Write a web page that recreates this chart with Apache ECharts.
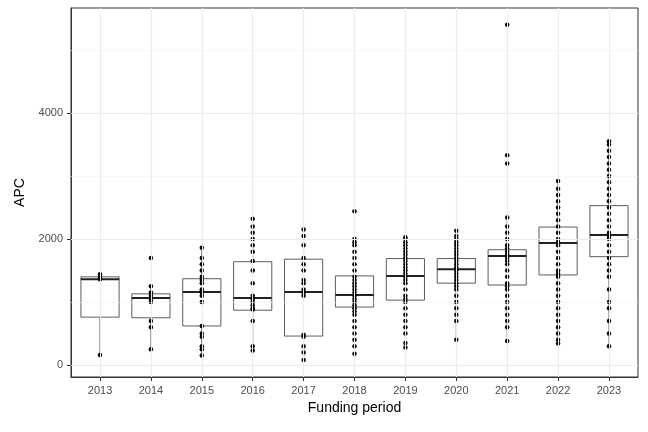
<!DOCTYPE html><html><head><meta charset="utf-8"><script src="https://cdn.jsdelivr.net/npm/echarts@6/dist/echarts.min.js"></script>
<style>html,body{margin:0;padding:0;background:#fff}#c{width:648px;height:432px}</style></head><body><div id="c"></div><script>
const years=['2013','2014','2015','2016','2017','2018','2019','2020','2021','2022','2023'];
// [min, Q1, median, Q3, max]
const boxStats=[
[160,760,1360,1400,1440],[250,750,1065,1130,1250],[150,620,1160,1370,1860],[230,870,1065,1640,2320],
[80,460,1160,1680,2150],[180,920,1110,1415,2000],[280,1030,1415,1690,2030],[400,1300,1520,1690,2130],
[380,1270,1730,1830,2340],[340,1430,1935,2190,2920],[300,1720,2065,2530,3550]];
const points=[
[160,1360,1400,1440],
[250,600,700,1000,1050,1100,1150,1250,1700],
[150,250,300,450,500,620,1000,1100,1150,1170,1200,1300,1350,1400,1500,1600,1700,1860],
[230,300,700,880,900,950,1000,1050,1100,1300,1500,1650,1800,1900,2000,2100,2200,2320],
[80,200,300,450,480,1100,1150,1200,1300,1350,1500,1600,1700,1900,2050,2150],
[180,300,400,500,600,700,800,850,900,950,1000,1050,1100,1150,1200,1250,1300,1350,1400,1500,1600,1700,1800,1900,1950,2000,2440],
[280,350,500,600,700,800,900,1000,1050,1100,1200,1300,1350,1400,1450,1500,1550,1600,1650,1700,1750,1800,1850,1900,1950,2000,2030],
[400,700,800,900,1000,1100,1200,1250,1300,1350,1400,1450,1500,1520,1550,1600,1650,1700,1750,1800,1850,1900,1950,2000,2050,2130],
[380,600,700,800,900,1000,1100,1200,1250,1300,1400,1500,1600,1650,1700,1730,1750,1800,1850,1900,2000,2100,2200,2340,3200,3330,5400],
[340,400,500,600,700,800,900,1000,1100,1200,1300,1400,1450,1500,1600,1700,1800,1900,1950,2000,2100,2200,2300,2400,2500,2600,2700,2800,2920],
[300,500,700,900,1000,1200,1400,1500,1600,1700,1800,1900,2000,2050,2100,2200,2300,2400,2500,2600,2700,2800,2900,3000,3100,3200,3300,3400,3500,3550]];
const yTicks=[0,2000,4000];
const yMinor=[1000,3000,5000];
const xIdx=years.map((y,i)=>i);
const scatter=[];points.forEach((arr,i)=>arr.forEach(v=>scatter.push([i,v])));
const gridLines=[
...yTicks.map(v=>({yAxis:v,lineStyle:{color:'#ebebeb',width:1.1,type:'solid'}})),
...yMinor.map(v=>({yAxis:v,lineStyle:{color:'#f2f2f2',width:0.6,type:'solid'}})),
...xIdx.map(v=>({xAxis:v,lineStyle:{color:'#ebebeb',width:1.1,type:'solid'}}))];
const chart=echarts.init(document.getElementById('c'));
chart.setOption({animation:false,
grid:{left:71,right:10,top:8,bottom:55,show:true,borderColor:'#333',borderWidth:1,backgroundColor:'transparent'},
xAxis:{type:'value',min:-0.57,max:10.57,splitLine:{show:false},
 axisLine:{show:true,onZero:false,lineStyle:{color:'#333'}},
 axisTick:{show:true,customValues:xIdx,length:4,lineStyle:{color:'#333'}},
 axisLabel:{customValues:xIdx,formatter:v=>years[Math.round(v)],color:'#4d4d4d',fontSize:11,fontFamily:'Liberation Sans'},
 name:'Funding period',nameLocation:'middle',nameGap:24,nameTextStyle:{fontSize:14,color:'#000',fontFamily:'Liberation Sans'}},
yAxis:{type:'value',min:-190,max:5667,splitLine:{show:false},
 axisLine:{show:true,onZero:false,lineStyle:{color:'#333'}},
 axisTick:{show:true,customValues:yTicks,length:4,lineStyle:{color:'#333'}},
 axisLabel:{customValues:yTicks,formatter:v=>String(v),color:'#4d4d4d',fontSize:11,fontFamily:'Liberation Sans'},
 name:'APC',nameLocation:'middle',nameGap:42,nameTextStyle:{fontSize:14,color:'#000',fontFamily:'Liberation Sans'}},
series:[
{type:'line',data:[],silent:true,markLine:{silent:true,symbol:'none',label:{show:false},data:gridLines}},
{type:'custom',data:boxStats.map((s,i)=>[i,...s]),
 renderItem:(params,api)=>{const x=api.value(0),w=0.375;
  const p=k=>api.coord([x,api.value(k)]);
  const L=api.coord([x-w,0])[0],R=api.coord([x+w,0])[0],C=p(1)[0];
  const st={stroke:'#333',lineWidth:0.8,fill:null};
  return {type:'group',children:[
   {type:'line',shape:{x1:C,y1:p(1)[1],x2:C,y2:p(2)[1]},style:st},
   {type:'line',shape:{x1:C,y1:p(4)[1],x2:C,y2:p(5)[1]},style:st},
   {type:'rect',shape:{x:L,y:p(4)[1],width:R-L,height:p(2)[1]-p(4)[1]},style:{stroke:'#333',lineWidth:0.8,fill:'#fff'}},
   {type:'line',shape:{x1:L,y1:p(3)[1],x2:R,y2:p(3)[1]},style:{stroke:'#222',lineWidth:2}}]};},
 encode:{x:0,y:[1,2,3,4,5]},z:2},
{type:'scatter',data:scatter,symbolSize:4.5,itemStyle:{color:'#000',opacity:1,borderWidth:0},z:3}]});
</script></body></html>
